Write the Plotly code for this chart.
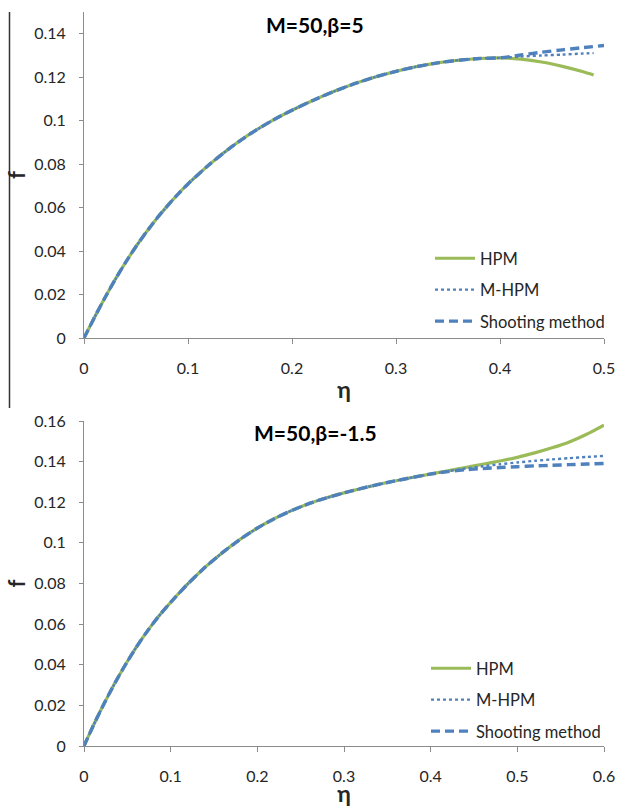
import plotly.graph_objects as go

# ---------------- data ----------------
# Top panel: M=50, beta=5
top_eta_common = [0, 0.01, 0.02, 0.03, 0.04, 0.05, 0.06, 0.07, 0.08, 0.09, 0.10,
                  0.12, 0.14, 0.16, 0.18, 0.20, 0.22, 0.24, 0.26, 0.28, 0.30,
                  0.32, 0.34, 0.36, 0.38, 0.40]
top_f_common = [0, 0.0094, 0.0184, 0.0269, 0.0348, 0.0421, 0.0488, 0.0550, 0.0607, 0.0660, 0.0709,
                0.0796, 0.0873, 0.0940, 0.0998, 0.1048, 0.1093, 0.1134, 0.1170, 0.1201, 0.1227,
                0.1249, 0.1266, 0.1278, 0.1286, 0.1289]
top_hpm_eta_tail = [0.42, 0.44, 0.46, 0.48, 0.49]
top_hpm_tail = [0.1283, 0.1270, 0.1250, 0.1225, 0.1210]
top_mhpm_eta_tail = [0.42, 0.44, 0.46, 0.48, 0.49]
top_mhpm_tail = [0.1295, 0.1300, 0.1304, 0.1309, 0.1311]
top_shoot_eta_tail = [0.42, 0.44, 0.46, 0.48, 0.50]
top_shoot_tail = [0.1302, 0.1315, 0.1326, 0.1336, 0.1346]

# Bottom panel: M=50, beta=-1.5
bot_eta_common = [0, 0.01, 0.02, 0.03, 0.04, 0.05, 0.06, 0.07, 0.08, 0.09, 0.10,
                  0.12, 0.14, 0.16, 0.18, 0.20, 0.22, 0.24, 0.26, 0.28, 0.30,
                  0.32, 0.34, 0.36, 0.38, 0.40]
bot_f_common = [0, 0.0094, 0.0182, 0.0265, 0.0343, 0.0416, 0.0484, 0.0547, 0.0605, 0.0658, 0.0707,
                0.0799, 0.0881, 0.0953, 0.1017, 0.1073, 0.1120, 0.1160, 0.1194, 0.1222, 0.1246,
                0.1268, 0.1288, 0.1306, 0.1323, 0.1339]
bot_eta_tail = [0.42, 0.44, 0.46, 0.48, 0.50, 0.52, 0.54, 0.56, 0.58, 0.60]
bot_hpm_tail = [0.1355, 0.1371, 0.1387, 0.1403, 0.1421, 0.1443, 0.1468, 0.1497, 0.1535, 0.1580]
bot_mhpm_tail = [0.1353, 0.1366, 0.1377, 0.1387, 0.1396, 0.1404, 0.1411, 0.1417, 0.1423, 0.1428]
bot_shoot_tail = [0.1351, 0.1360, 0.1366, 0.1371, 0.1375, 0.1379, 0.1382, 0.1385, 0.1388, 0.1391]

series_names = ["HPM", "M-HPM", "Shooting method"]
top_title = "M=50,β=5"
bot_title = "M=50,β=-1.5"
top_yticks = [0, 0.02, 0.04, 0.06, 0.08, 0.10, 0.12, 0.14]
top_yticktext = ["0", "0.02", "0.04", "0.06", "0.08", "0.1", "0.12", "0.14"]
bot_yticks = [0, 0.02, 0.04, 0.06, 0.08, 0.10, 0.12, 0.14, 0.16]
bot_yticktext = ["0", "0.02", "0.04", "0.06", "0.08", "0.1", "0.12", "0.14", "0.16"]
top_xticks = [0, 0.1, 0.2, 0.3, 0.4, 0.5]
top_xticktext = ["0", "0.1", "0.2", "0.3", "0.4", "0.5"]
bot_xticks = [0, 0.1, 0.2, 0.3, 0.4, 0.5, 0.6]
bot_xticktext = ["0", "0.1", "0.2", "0.3", "0.4", "0.5", "0.6"]

# ---------------- styling ----------------
FONT = "Lato, Carlito, Calibri, 'Open Sans', sans-serif"
GREEN = "#9BBB59"
BLUE = "#4F81BD"
AXIS = "#8C8C8C"
TXT = "#262626"

styles = [
    dict(color=GREEN, width=3.2, dash="solid"),
    dict(color=BLUE, width=2.4, dash="dot"),
    dict(color=BLUE, width=3.4, dash="9px,5px"),
]

fig = go.Figure()

top_data = [
    (top_eta_common + top_hpm_eta_tail, top_f_common + top_hpm_tail),
    (top_eta_common + top_mhpm_eta_tail, top_f_common + top_mhpm_tail),
    (top_eta_common + top_shoot_eta_tail, top_f_common + top_shoot_tail),
]
bot_data = [
    (bot_eta_common + bot_eta_tail, bot_f_common + bot_hpm_tail),
    (bot_eta_common + bot_eta_tail, bot_f_common + bot_mhpm_tail),
    (bot_eta_common + bot_eta_tail, bot_f_common + bot_shoot_tail),
]

for i, (x, y) in enumerate(top_data):
    fig.add_trace(go.Scatter(x=x, y=y, mode="lines", name=series_names[i],
                             line=dict(shape="spline", smoothing=0.6, **styles[i]),
                             xaxis="x", yaxis="y", legend="legend",
                             legendgroup="t%d" % i))
for i, (x, y) in enumerate(bot_data):
    fig.add_trace(go.Scatter(x=x, y=y, mode="lines", name=series_names[i],
                             line=dict(shape="spline", smoothing=0.6, **styles[i]),
                             xaxis="x2", yaxis="y2", legend="legend2",
                             legendgroup="b%d" % i))

W, H = 617, 807
L, T = 84, 12
R = W - 604
B = H - 746
PH = H - T - B
PW = W - L - R

def px_x(px):
    return (px - L) / PW

def px_y(py):
    return 1 - (py - T) / PH

top_dom = [px_y(338), 1.0]
bot_dom = [0.0, px_y(421)]

def xax(ticks, text, rng, anchor):
    return dict(range=rng, tickvals=ticks, ticktext=text, showgrid=False, zeroline=False,
                showline=True, linecolor=AXIS, linewidth=1, ticks="outside", ticklen=5,
                tickcolor=AXIS, tickfont=dict(family=FONT, size=16, color=TXT),
                ticklabelstandoff=11, anchor=anchor, automargin=False,
                title=dict(text="<b>η</b>", font=dict(family=FONT, size=23, color=TXT), standoff=5))

def yax(ticks, text, rng, dom, anchor):
    return dict(range=rng, tickvals=ticks, ticktext=text, showgrid=False, zeroline=False,
                showline=True, linecolor=AXIS, linewidth=1, ticks="outside", ticklen=4,
                tickcolor=AXIS, tickfont=dict(family=FONT, size=16, color=TXT),
                ticklabelstandoff=10, domain=dom, anchor=anchor, automargin=False,
                title=dict(text="<b>f</b>", font=dict(family=FONT, size=22, color=TXT), standoff=2))

legend_common = dict(font=dict(family=FONT, size=16.5, color=TXT), bgcolor="rgba(0,0,0,0)",
                     tracegroupgap=7, xanchor="left", yanchor="top", itemwidth=40)

fig.update_layout(
    width=W, height=H,
    margin=dict(l=L, r=R, t=T, b=B, pad=0, autoexpand=False),
    paper_bgcolor="white", plot_bgcolor="white",
    xaxis=xax(top_xticks, top_xticktext, [0, 0.5], "y"),
    yaxis=yax(top_yticks, top_yticktext, [0, 0.15], top_dom, "x"),
    xaxis2=xax(bot_xticks, bot_xticktext, [0, 0.6], "y2"),
    yaxis2=yax(bot_yticks, bot_yticktext, [0, 0.16], bot_dom, "x2"),
    legend=dict(x=px_x(430), y=px_y(241), **legend_common),
    legend2=dict(x=px_x(426), y=px_y(651), **legend_common),
    showlegend=True,
    annotations=[
        dict(text="<b>" + top_title + "</b>", xref="paper", yref="paper",
             x=px_x(315), y=px_y(25), showarrow=False,
             font=dict(family=FONT, size=21, color="black"), xanchor="center", yanchor="middle"),
        dict(text="<b>" + bot_title + "</b>", xref="paper", yref="paper",
             x=px_x(315), y=px_y(432), showarrow=False,
             font=dict(family=FONT, size=21, color="black"), xanchor="center", yanchor="middle"),
    ],
    shapes=[
        dict(type="line", xref="paper", yref="paper",
             x0=px_x(9.5), x1=px_x(9.5),
             y0=px_y(408), y1=px_y(12), line=dict(color="#333333", width=1.5)),
    ],
)

fig.write_html(
    "out.html",
    config={"displayModeBar": False},
    post_script="document.body.style.margin='0';document.body.style.overflow='hidden';",
)
